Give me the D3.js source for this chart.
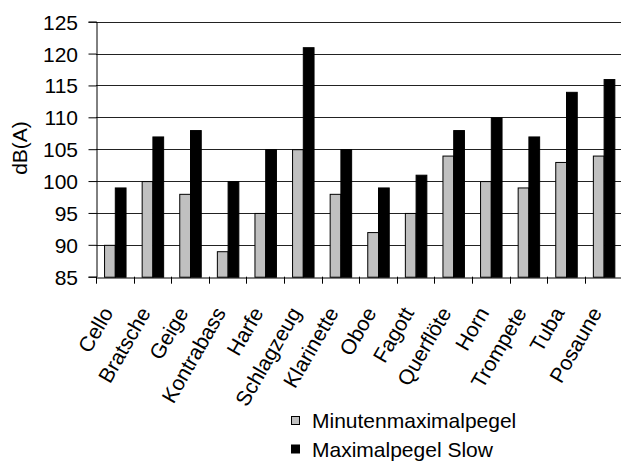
<!DOCTYPE html>
<html><head><meta charset="utf-8">
<script src="https://cdn.jsdelivr.net/npm/d3@7/dist/d3.min.js"></script>
<style>body{margin:0;background:#fff}svg{display:block}text{font-family:"Liberation Sans",Arial,sans-serif;fill:#000}</style>
</head><body>
<svg id="c" width="621" height="461"></svg>
<script>
const categories = ["Cello","Bratsche","Geige","Kontrabass","Harfe","Schlagzeug","Klarinette","Oboe","Fagott","Querflöte","Horn","Trompete","Tuba","Posaune"];
const seriesNames = ["Minutenmaximalpegel","Maximalpegel Slow"];
const minutenmaximalpegel = [90,100,98,89,95,105,98,92,95,104,100,99,103,104];
const maximalpegelSlow = [99,107,108,100,105,121,105,99,101,108,110,107,114,116];
const yTicks = [85,90,95,100,105,110,115,120,125];
const colors = ["#c0c0c0","#000000"];

const FS = 21;
const svg = d3.select("#c");
const L = 96, R = 96 + 14*37.6, T = 21.7, B = 276.7;
const x = d3.scaleBand().domain(categories).range([L, R]).padding(0);
const xs = d3.scaleBand().domain(seriesNames).range([0, x.bandwidth()]).paddingInner(0).paddingOuter(0.75);
const y = d3.scaleLinear().domain([85,125]).range([B, T]);
const values = [minutenmaximalpegel, maximalpegelSlow];

// gridlines
svg.append("g").selectAll("line").data(yTicks.slice(1)).join("line")
  .attr("x1", L).attr("x2", R).attr("y1", d => Math.round(y(d))+0.5).attr("y2", d => Math.round(y(d))+0.5)
  .attr("stroke", "#222").attr("stroke-width", 1);

// bars
seriesNames.forEach((s, si) => {
  svg.append("g").selectAll("rect").data(categories).join("rect")
    .attr("x", c => x(c) + xs(s) + 0.5)
    .attr("y", (c, i) => y(values[si][i]) + 0.5)
    .attr("width", xs.bandwidth())
    .attr("height", (c, i) => B - y(values[si][i]))
    .attr("fill", colors[si]).attr("stroke", "#000").attr("stroke-width", 1);
});

// y axis
const yAxis = svg.append("g").attr("transform", `translate(${L+0.5},0)`)
  .call(d3.axisLeft(y).tickValues(yTicks).tickSize(8).tickFormat(d3.format("d")));
yAxis.select(".domain").attr("stroke", "#000");
yAxis.selectAll(".tick line").attr("stroke", "#000");
yAxis.selectAll(".tick text").attr("font-size", FS).attr("x", -18.5).attr("dy", null)
  .attr("text-anchor", "end").attr("dominant-baseline", "central");

// x axis
const xAxis = svg.append("g").attr("transform", `translate(0,${Math.round(B)+0.5})`)
  .call(d3.axisBottom(x).tickSize(0).tickFormat(""));
xAxis.select(".domain").attr("stroke", "#000");
xAxis.selectAll(".tick").remove();
svg.append("g").selectAll("line").data(d3.range(categories.length+1)).join("line")
  .attr("x1", i => Math.round(L + i*x.step())+0.5).attr("x2", i => Math.round(L + i*x.step())+0.5)
  .attr("y1", B).attr("y2", B + 7).attr("stroke", "#000");

svg.append("g").selectAll("text").data(categories).join("text")
  .attr("font-size", FS).attr("text-anchor", "end")
  .attr("transform", c => `translate(${x(c) + x.bandwidth()/2 - 1},${B + 36}) rotate(-60)`)
  .text(c => c);

// y title
svg.append("text").attr("font-size", FS).attr("text-anchor", "middle")
  .attr("transform", `translate(27,148) rotate(-90)`).text("dB(A)");

// legend
const lg = svg.append("g");
seriesNames.forEach((s, i) => {
  lg.append("rect").attr("x", 291.5).attr("y", 416.5 + i*28.5).attr("width", 8).attr("height", 8)
    .attr("fill", colors[i]).attr("stroke", "#000");
  lg.append("text").attr("font-size", FS).attr("x", 312).attr("y", 428 + i*28.5).text(s);
});
</script>
</body></html>
